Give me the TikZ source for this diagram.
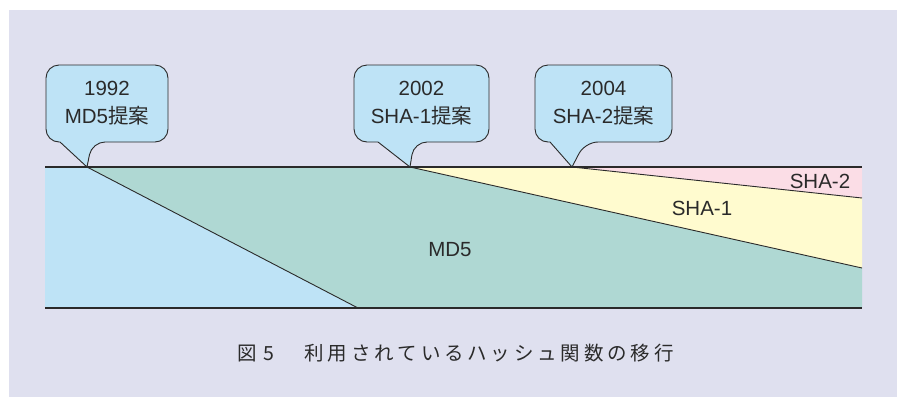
\documentclass[tikz,border=0pt]{standalone}
\usepackage{fontspec}
\setmainfont{Liberation Sans}
\newfontfamily\cjk{Noto Sans CJK JP}
\definecolor{bgpanel}{HTML}{DFE0EF}
\definecolor{md5blue}{HTML}{BEE3F6}
\definecolor{teal5}{HTML}{AFD8D3}
\definecolor{sha1y}{HTML}{FFFBCF}
\definecolor{sha2p}{HTML}{FBDDE6}
\definecolor{ink}{HTML}{2A2A2A}
\def\spaced#1{\spacedi#1\relax}
\def\spacedi#1{\ifx#1\relax\else#1\kern3.8pt\expandafter\spacedi\fi}
\tikzset{
  chartline/.style={draw=ink, line width=1.2pt},
  calloutbox/.style={fill=md5blue, draw=ink, line width=0.9pt, line join=round},
  lbl/.style={text=ink, font=\fontsize{20.5}{28}\selectfont, inner sep=0pt, align=center},
  captxt/.style={text=ink, font=\cjk\fontsize{19.5}{22}\selectfont, inner sep=0pt}
}
\begin{document}
\begin{tikzpicture}[x=1pt,y=-1pt]
\useasboundingbox (0,0) rectangle (904,397);
\fill[bgpanel] (9,10) rectangle (897,397);
% chart key points
\coordinate (tl) at (45,167);
\coordinate (tr) at (862,167);
\coordinate (bl) at (45,308);
\coordinate (br) at (862,308);
\coordinate (p1) at (87,167);
\coordinate (p2) at (410,167);
\coordinate (p3) at (572,167);
\coordinate (q1) at (358,308);
\coordinate (q2) at (862,268);
\coordinate (q3) at (862,198);
% regions
\fill[md5blue] (tl) -- (p1) -- (q1) -- (bl) -- cycle;
\fill[teal5] (p1) -- (p2) -- (q2) -- (br) -- (q1) -- cycle;
\fill[sha1y] (p2) -- (p3) -- (q3) -- (q2) -- cycle;
\fill[sha2p] (p3) -- (tr) -- (q3) -- cycle;
% lines
\draw[chartline] (tl) -- (tr);
\draw[chartline] (bl) -- (br);
\draw[chartline, line width=0.9pt] (p1) -- (q1);
\draw[chartline, line width=0.9pt] (p2) -- (q2);
\draw[chartline, line width=0.9pt] (p3) -- (q3);
% region labels
\node[lbl] (md5) at (450,250) {MD5};
\node[lbl] (sha1) at (702,208) {SHA-1};
\node[lbl] (sha2) at (820,181) {SHA-2};
% callouts
\draw[calloutbox] (60,142) [rounded corners=13pt] -- (46,142) -- (46,65) -- (168,65) -- (168,142) -- (92,142) [sharp corners] -- (p1) -- cycle;
\node[lbl] (c1) at (107,103) {1992\\MD5{\cjk 提案}};
\draw[calloutbox] (378,142) [rounded corners=13pt] -- (354,142) -- (354,65) -- (489,65) -- (489,142) -- (414,142) [sharp corners] -- (p2) -- cycle;
\node[lbl] (c2) at (421.5,103) {2002\\SHA-1{\cjk 提案}};
\draw[calloutbox] (550,142) [rounded corners=13pt] -- (535,142) -- (535,65) -- (672,65) -- (672,142) -- (585,142) [sharp corners] -- (p3) -- cycle;
\node[lbl] (c3) at (603.5,103) {2004\\SHA-2{\cjk 提案}};
% caption
\node[captxt, anchor=west] (cap) at (237,353) {図\kern7pt 5\kern30pt\spaced{利用されているハッシュ関数の移行}};
\end{tikzpicture}
\end{document}
